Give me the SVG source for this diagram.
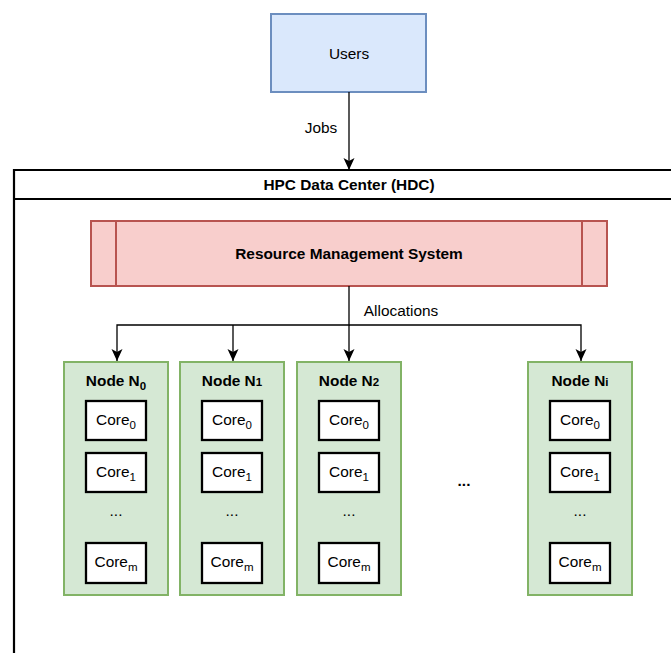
<svg xmlns="http://www.w3.org/2000/svg" width="671" height="653" viewBox="0 0 671 653">
  <defs>
    <marker id="arrow" markerUnits="userSpaceOnUse" markerWidth="14" markerHeight="14" viewBox="0 0 14 14" refX="13" refY="7" orient="auto">
      <path d="M1,1.5 L13,7 L1,12.5 L4,7 Z" fill="#000"/>
    </marker>
    <style>
      text { font-family: "Liberation Sans", Arial, Helvetica, sans-serif; fill: #000; }
      .lbl { font-size: 15.4px; text-anchor: middle; }
      .bold { font-weight: bold; }
      .sub { font-size: 11.5px; }
      .users { fill: #dae8fc; stroke: #6c8ebf; stroke-width: 2; }
      .rms { fill: #f8cecc; stroke: #b85450; stroke-width: 2; }
      .node { fill: #d5e8d4; stroke: #82b366; stroke-width: 2; }
      .core { fill: #fff; stroke: #000; stroke-width: 2.3; }
      .edge { fill: none; stroke: #000; stroke-width: 1.3; }
    </style>
  </defs>

  <rect width="671" height="653" fill="#fff"/>

  <!-- Users -->
  <g id="users">
    <rect class="users" x="271" y="14" width="155" height="78"/>
    <text class="lbl" x="349" y="59">Users</text>
  </g>

  <!-- HPC data center container -->
  <g id="hdc">
    <path d="M14,653 L14,170 L675,170 M14,199 L675,199" fill="none" stroke="#000" stroke-width="2.2"/>
    <text class="lbl bold" x="349" y="190">HPC Data Center (HDC)</text>
  </g>

  <!-- Resource management system -->
  <g id="rms">
    <rect class="rms" x="91" y="221" width="516" height="65"/>
    <path d="M116,221 V286 M582,221 V286" stroke="#b85450" stroke-width="2"/>
    <text class="lbl bold" x="349" y="259">Resource Management System</text>
  </g>

  <!-- Connectors -->
  <g id="connectors">
    <path class="edge" d="M349,92 V170" marker-end="url(#arrow)"/>
    <text class="lbl" x="321" y="133">Jobs</text>
    <path class="edge" d="M349,286 V325 H117 V361" marker-end="url(#arrow)"/>
    <path class="edge" d="M233,325 V361" marker-end="url(#arrow)"/>
    <path class="edge" d="M349,325 V361" marker-end="url(#arrow)"/>
    <path class="edge" d="M349,325 H581 V361" marker-end="url(#arrow)"/>
    <text class="lbl" x="401" y="316">Allocations</text>
  </g>

  <!-- Node N0 -->
  <g id="node-n0">
    <rect class="node" x="64" y="362" width="104" height="233"/>
    <text class="lbl bold" x="116" y="386">Node N<tspan class="sub" dy="4">0</tspan></text>
    <rect class="core" x="86" y="401" width="60" height="39"/>
    <text class="lbl" x="116" y="425">Core<tspan class="sub" dy="4">0</tspan></text>
    <rect class="core" x="86" y="453" width="60" height="39"/>
    <text class="lbl" x="116" y="477">Core<tspan class="sub" dy="4">1</tspan></text>
    <text class="lbl" x="116" y="516" font-size="12">...</text>
    <rect class="core" x="86" y="543" width="60" height="40"/>
    <text class="lbl" x="116" y="567">Core<tspan class="sub" dy="4">m</tspan></text>
  </g>

  <!-- Node N1 -->
  <g id="node-n1">
    <rect class="node" x="180" y="362" width="104" height="233"/>
    <text class="lbl bold" x="232" y="386">Node N<tspan class="sub">1</tspan></text>
    <rect class="core" x="202" y="401" width="60" height="39"/>
    <text class="lbl" x="232" y="425">Core<tspan class="sub" dy="4">0</tspan></text>
    <rect class="core" x="202" y="453" width="60" height="39"/>
    <text class="lbl" x="232" y="477">Core<tspan class="sub" dy="4">1</tspan></text>
    <text class="lbl" x="232" y="516" font-size="12">...</text>
    <rect class="core" x="202" y="543" width="60" height="40"/>
    <text class="lbl" x="232" y="567">Core<tspan class="sub" dy="4">m</tspan></text>
  </g>

  <!-- Node N2 -->
  <g id="node-n2">
    <rect class="node" x="297" y="362" width="104" height="233"/>
    <text class="lbl bold" x="349" y="386">Node N<tspan class="sub">2</tspan></text>
    <rect class="core" x="319" y="401" width="60" height="39"/>
    <text class="lbl" x="349" y="425">Core<tspan class="sub" dy="4">0</tspan></text>
    <rect class="core" x="319" y="453" width="60" height="39"/>
    <text class="lbl" x="349" y="477">Core<tspan class="sub" dy="4">1</tspan></text>
    <text class="lbl" x="349" y="516" font-size="12">...</text>
    <rect class="core" x="319" y="543" width="60" height="40"/>
    <text class="lbl" x="349" y="567">Core<tspan class="sub" dy="4">m</tspan></text>
  </g>

  <!-- Gap between nodes -->
  <text class="lbl bold" x="464" y="486">...</text>

  <!-- Node Ni -->
  <g id="node-ni">
    <rect class="node" x="528" y="362" width="104" height="233"/>
    <text class="lbl bold" x="580" y="386">Node N<tspan class="sub">i</tspan></text>
    <rect class="core" x="550" y="401" width="60" height="39"/>
    <text class="lbl" x="580" y="425">Core<tspan class="sub" dy="4">0</tspan></text>
    <rect class="core" x="550" y="453" width="60" height="39"/>
    <text class="lbl" x="580" y="477">Core<tspan class="sub" dy="4">1</tspan></text>
    <text class="lbl" x="580" y="516" font-size="12">...</text>
    <rect class="core" x="550" y="543" width="60" height="40"/>
    <text class="lbl" x="580" y="567">Core<tspan class="sub" dy="4">m</tspan></text>
  </g>
</svg>
